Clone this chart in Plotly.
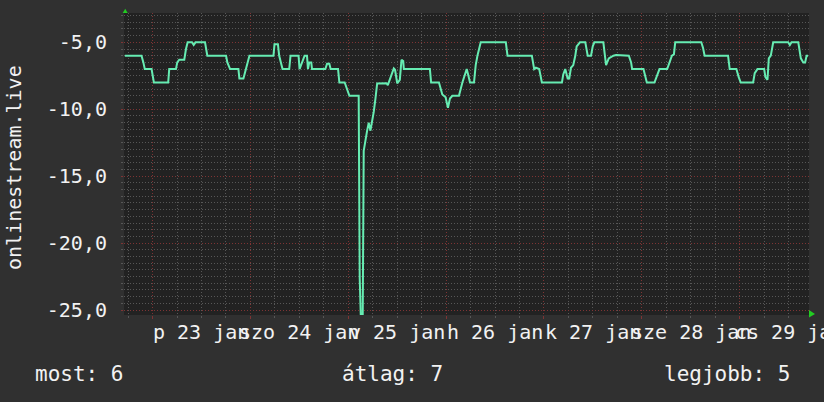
import pandas as pd
import plotly.graph_objects as go

# rank history of onlinestream.live (hours since window start, rank shown negative)
start = "2015-01-22 17:00"
window_hours = 168

hours = [
    0.2, 4.3, 4.75, 5.1, 6.76, 7.33, 10.84, 11.09, 12.74, 13.06, 13.55, 14.78, 15.2, 15.61,
    16.67, 17.09, 17.53, 19.87, 20.43, 25.03, 25.35, 26.02, 28.06, 28.3, 29.29, 29.95, 30.37, 30.76,
    36.66, 36.91, 37.75, 38.06, 38.88, 40.52, 40.84, 42.81, 43.06, 43.89, 44.29, 44.88, 45.12,
    45.44, 45.93, 46.11, 49.38, 49.8, 50.36, 50.68, 52.5, 52.82, 54.12, 55.28, 57.56,
    57.81, 58.06, 58.55, 58.65, 58.79, 59.63, 60.02, 60.44, 60.86, 61.25, 61.67, 62.09,
    64.38, 64.7, 66.17, 66.47, 67.01, 67.65, 68.06, 68.48, 68.63, 75.02, 75.32, 77.24, 78.07,
    78.88, 79.45, 79.94, 80.53, 82.15, 82.99, 83.43, 84.05, 84.47, 84.86, 85.84, 86.26, 86.68,
    87.07, 87.49, 93.64, 94.06,
    100.03, 100.6, 101.02, 101.83, 102.49, 107.41, 107.73, 108.22, 108.81, 109.2, 109.62, 110.19,
    110.68, 111.02, 111.83, 113.14, 113.73, 114.54, 114.96, 115.35, 117.56, 118.06, 118.23, 118.89,
    120.02, 120.69, 121.42, 123.81, 124.37, 124.62, 127.4, 128.23, 130.1, 130.69, 131.33,
    133.22, 133.79, 134.38, 134.87, 135.19, 141.58, 142.0, 142.4, 148.15, 148.55, 150.19, 150.76,
    151.25, 154.3, 154.69, 155.36, 157.0, 157.32, 157.82, 158.14, 158.63, 159.22, 162.9, 163.3,
    163.72, 165.37, 166.0, 166.6, 167.05, 167.41, 167.78,
]
rank = [
    -6, -6, -6.5, -7, -7, -8, -8, -7, -7, -6.5, -6.3, -6.3, -5.5, -5,
    -5, -5.2, -5, -5, -6, -6, -6.5, -7, -7, -7.7, -7.7, -7, -6.5, -6,
    -6, -5.15, -5.15, -6, -7, -7, -6, -6, -7, -6.3, -6, -6, -7,
    -6.5, -6.5, -7, -7, -6.6, -6.6, -7, -7, -8, -8, -9, -9,
    -22.6, -25.3, -25.3, -14.5, -13.1, -11.6, -11.0, -11.6, -11.0, -10.2, -9.2, -8.07,
    -8.06, -8.2, -6.95, -7.05, -8.06, -7.8, -6.3, -6.4, -7, -7, -8, -8, -8.9,
    -9.1, -9.9, -9.2, -9.0, -9.0, -8, -7.5, -7.0, -7.5, -8, -8, -6.7, -6,
    -5.4, -5, -5, -6,
    -6, -7, -6.9, -7, -8, -8, -7.4, -7, -7.7, -7.7, -6.9, -6.7,
    -6, -5.3, -5, -5, -6, -6, -5.3, -5, -5, -6.5, -6.7, -6.2,
    -6, -5.95, -5.95, -6, -6.5, -7, -7, -8, -8, -7.5, -7,
    -7, -6.5, -6, -5.9, -5, -5, -5.4, -6, -6, -7, -7, -7.6,
    -8, -8, -7.3, -7, -7, -7.6, -7.8, -6.2, -6, -5, -5, -5.2,
    -5, -5, -6.2, -6.5, -6.5, -6, -6,
]

y_ticks = [-25, -20, -15, -10, -5]
day_labels = ["p 23 jan", "szo 24 jan", "v 25 jan", "h 26 jan", "k 27 jan", "sze 28 jan", "cs 29 jan"]
day_dates = ["2015-01-23", "2015-01-24", "2015-01-25", "2015-01-26", "2015-01-27", "2015-01-28", "2015-01-29"]
legend_labels = ["most", "átlag", "legjobb"]
legend_values = [6, 7, 5]
axis_title = "onlinestream.live"

t0 = pd.Timestamp(start)
times = t0 + pd.to_timedelta(hours, unit="h")
t1 = t0 + pd.Timedelta(hours=window_hours)

FONT = "DejaVu Sans Mono"
TXT = "#f2f2f2"
MINOR = "#575757"
MAJOR = "#7e3434"
DOTS = "1px,2px"

fig = go.Figure()
fig.add_trace(go.Scatter(x=times, y=rank, mode="lines",
                         line=dict(color="#66ecb2", width=2), hoverinfo="skip"))

fig.update_layout(
    width=824, height=402,
    margin=dict(l=124, r=15, t=13, b=87),
    paper_bgcolor="#303030", plot_bgcolor="#222222",
    showlegend=False,
    font=dict(family=FONT, size=20, color=TXT),
)

fig.update_xaxes(
    type="date", range=[t0, t1],
    tick0="2015-01-23", dtick=86400000,
    showticklabels=False, ticks="outside", ticklen=3, tickcolor=MAJOR,
    showgrid=True, gridcolor=MAJOR, griddash=DOTS, gridwidth=1,
    minor=dict(dtick=6 * 3600000, tick0="2015-01-23", showgrid=True,
               gridcolor=MINOR, griddash=DOTS, ticks="outside", ticklen=2, tickcolor=MINOR),
    zeroline=False, showline=False,
)
fig.update_yaxes(
    range=[-25.37, -2.81],
    tickmode="array", tickvals=y_ticks,
    ticktext=[f"{v:.1f}".replace(".", ",") for v in y_ticks],
    ticks="outside", ticklen=2, tickcolor=MAJOR, ticklabelstandoff=10,
    showgrid=True, gridcolor=MAJOR, griddash=DOTS, gridwidth=1,
    minor=dict(dtick=0.5, tick0=0, showgrid=True, gridcolor=MINOR, griddash=DOTS,
               ticks="outside", ticklen=2, tickcolor=MINOR),
    zeroline=False, showline=False,
    tickfont=dict(family=FONT, size=20, color=TXT),
)

# day labels, centred on noon of each day
for d, lab in zip(day_dates, day_labels):
    fig.add_annotation(x=pd.Timestamp(d) + pd.Timedelta(hours=12), y=-0.056,
                       xref="x", yref="paper", text=lab, showarrow=False,
                       xanchor="center", yanchor="middle",
                       font=dict(family=FONT, size=20, color=TXT))

# rotated axis title
fig.add_annotation(x=-0.1606, y=0.49, xref="paper", yref="paper", text=axis_title,
                   textangle=-90, showarrow=False, xanchor="center", yanchor="middle",
                   font=dict(family=FONT, size=20, color=TXT))

# legend row: most / átlag / legjobb
legend_pos = [(-0.133, "left"), (0.3158, "left"), (0.975, "right")]
for (px, anchor), lab, val in zip(legend_pos, legend_labels, legend_values):
    fig.add_annotation(x=px, y=-0.195, xref="paper", yref="paper",
                       text=f"{lab}: {val}", showarrow=False,
                       xanchor=anchor, yanchor="middle",
                       font=dict(family=FONT, size=21, color=TXT))

# green axis arrows
fig.add_shape(type="path", xref="paper", yref="paper",
              path="M -0.0019,1.0 L 0.0054,1.0 L 0.0018,1.014 Z",
              fillcolor="#22cc22", line=dict(width=0))
fig.add_shape(type="path", xref="paper", yref="paper",
              path="M 1.0,0.0166 L 1.0,-0.0083 L 1.0088,0.0033 Z",
              fillcolor="#22cc22", line=dict(width=0))

fig.write_html("out.html", config={"displayModeBar": False},
               post_script="document.body.style.margin='0';"
                           "document.body.style.overflow='hidden';"
                           "document.body.style.background='#303030';")
